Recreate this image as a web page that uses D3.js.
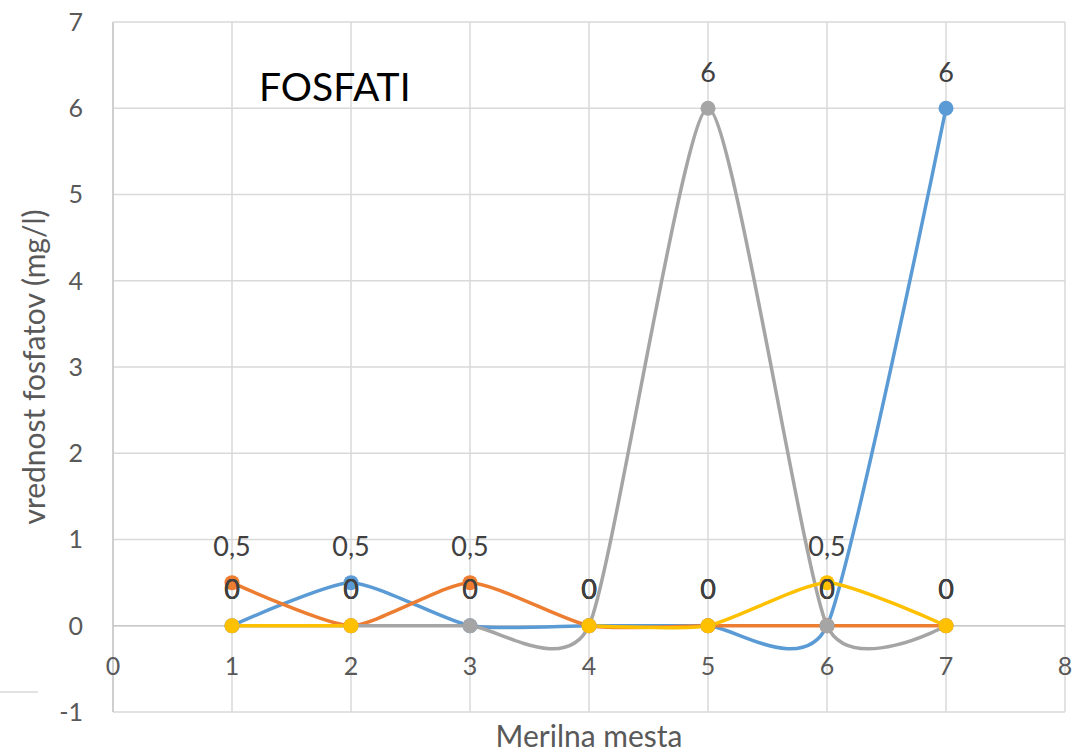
<!DOCTYPE html>
<html>
<head>
<meta charset="utf-8">
<script src="https://cdn.jsdelivr.net/npm/d3@7"></script>
<style>
  body { margin: 0; background: #fff; }
  svg { display: block; font-family: Lato, "Open Sans", sans-serif; }
  .grid line { stroke: #d9d9d9; stroke-width: 1.5; }
  .tick-label { fill: #595959; font-size: 25px; }
  .data-label { fill: #404040; font-size: 27px; }
  .axis-title { fill: #595959; font-size: 30px; }
</style>
</head>
<body>
<div id="chart"></div>
<script>

// Chart data (null = empty cell, drawn as a gap)
var places = [1, 2, 3, 4, 5, 6, 7];
var seriesBlue = [0, 0.5, 0, 0, 0, 0, 6];
var seriesOrange = [0.5, 0, 0.5, 0, 0, 0, 0];
var seriesGray = [0, 0, 0, 0, 6, 0, 0];
var seriesYellow = [0, 0, null, 0, 0, 0.5, 0];
var xTicks = [0, 1, 2, 3, 4, 5, 6, 7, 8];
var yTicks = [-1, 0, 1, 2, 3, 4, 5, 6, 7];

var series = [
    {values: seriesBlue, color: "#5b9bd5"},
    {values: seriesOrange, color: "#ed7d31"},
    {values: seriesGray, color: "#a5a5a5"},
    {values: seriesYellow, color: "#ffc000"}
];

var W = 1076, H = 752;
var margin = {top: 22, right: 11, bottom: 40, left: 113};
var width = W - margin.left - margin.right;
var height = H - margin.top - margin.bottom;

var svg = d3.select("#chart").append("svg")
    .attr("width", W)
    .attr("height", H);

var g = svg.append("g")
    .attr("transform", "translate(" + margin.left + "," + margin.top + ")");

// Scales
var x = d3.scaleLinear().domain([0, 8]).range([0, width]);
var y = d3.scaleLinear().domain([-1, 7]).range([height, 0]);

// Gridlines
var grid = g.append("g").attr("class", "grid");
grid.selectAll(".hline")
    .data(yTicks)
    .enter().append("line")
    .attr("x1", 0).attr("x2", width)
    .attr("y1", d => y(d)).attr("y2", d => y(d));
grid.selectAll(".vline")
    .data(xTicks)
    .enter().append("line")
    .attr("y1", 0).attr("y2", height)
    .attr("x1", d => x(d)).attr("x2", d => x(d));

// Axis lines (horizontal axis crosses at 0)
g.append("line")
    .attr("x1", 0).attr("x2", width)
    .attr("y1", y(0)).attr("y2", y(0))
    .style("stroke", "#c8c8c8").style("stroke-width", 1.5);
g.append("line")
    .attr("x1", 0).attr("x2", 0)
    .attr("y1", 0).attr("y2", height)
    .style("stroke", "#c8c8c8").style("stroke-width", 1.5);

// Tick labels
g.selectAll(".ylab")
    .data(yTicks)
    .enter().append("text")
    .attr("class", "tick-label")
    .attr("x", -30)
    .attr("y", d => y(d))
    .attr("dy", "0.35em")
    .attr("text-anchor", "end")
    .text(d => d);
g.selectAll(".xlab")
    .data(xTicks)
    .enter().append("text")
    .attr("class", "tick-label")
    .attr("x", d => x(d))
    .attr("y", y(0) + 40)
    .attr("dy", "0.35em")
    .attr("text-anchor", "middle")
    .text(d => d);

// Smoothed lines
var line = d3.line()
    .defined(d => d.v !== null)
    .x(d => x(d.p))
    .y(d => y(d.v))
    .curve(d3.curveCardinal.tension(0.4));

series.forEach(s => {
    var pts = places.map((p, i) => ({p: p, v: s.values[i]}));
    g.append("path")
        .datum(pts)
        .attr("d", line)
        .style("fill", "none")
        .style("stroke", s.color)
        .style("stroke-width", 3.5)
        .style("stroke-linecap", "round");
});

// Markers
series.forEach(s => {
    var pts = places.map((p, i) => ({p: p, v: s.values[i]})).filter(d => d.v !== null);
    g.selectAll(null)
        .data(pts)
        .enter().append("circle")
        .attr("cx", d => x(d.p))
        .attr("cy", d => y(d.v))
        .attr("r", 7.5)
        .style("fill", s.color);
});

// Data labels
var fmt = d => String(d).replace(".", ",");
series.forEach(s => {
    var pts = places.map((p, i) => ({p: p, v: s.values[i]})).filter(d => d.v !== null);
    g.selectAll(null)
        .data(pts)
        .enter().append("text")
        .attr("class", "data-label")
        .attr("x", d => x(d.p))
        .attr("y", d => y(d.v) - 36)
        .attr("dy", "0.35em")
        .attr("text-anchor", "middle")
        .text(d => fmt(d.v));
});

// Titles
svg.append("text")
    .attr("x", 259)
    .attr("y", 101)
    .style("font-size", "39px")
    .style("fill", "#000")
    .text("FOSFATI");

svg.append("text")
    .attr("class", "axis-title")
    .attr("x", margin.left + x(4))
    .attr("y", 747)
    .attr("text-anchor", "middle")
    .text("Merilna mesta");

svg.append("text")
    .attr("class", "axis-title")
    .attr("transform", "translate(45," + (margin.top + y(3)) + ") rotate(-90)")
    .attr("text-anchor", "middle")
    .text("vrednost fosfatov (mg/l)");

// small stray line at bottom left
svg.append("line")
    .attr("x1", 0).attr("x2", 38)
    .attr("y1", 692).attr("y2", 692)
    .style("stroke", "#d9d9d9").style("stroke-width", 1.5);

</script>
</body>
</html>
